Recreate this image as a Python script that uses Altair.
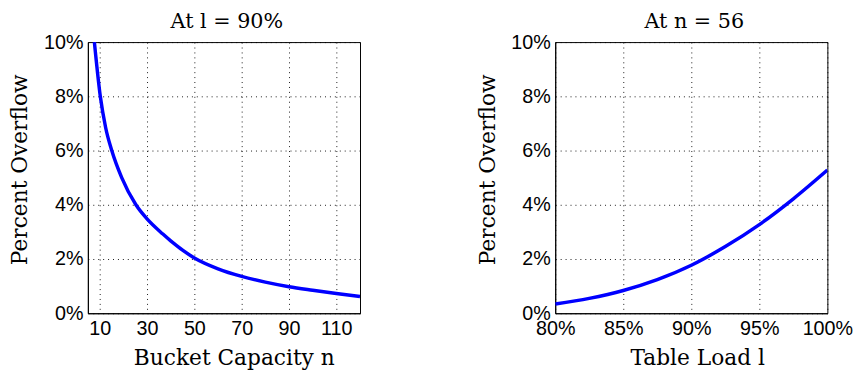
import altair as alt
import pandas as pd

# Left panel: overflow vs bucket capacity at l = 90%
cap_n = [7.75, 10.25, 12.5, 15.1, 19.3, 25.3, 30, 36.7, 40, 50, 60, 70, 80, 90, 100, 110, 120]
cap_overflow = [10.0, 8.0, 6.85, 6.0, 5.0, 4.0, 3.48, 2.92, 2.67, 2.04, 1.64, 1.36, 1.15, 0.98, 0.85, 0.73, 0.62]

# Right panel: overflow vs table load at n = 56
load_l = [0.80, 0.825, 0.85, 0.875, 0.90, 0.925, 0.95, 0.975, 1.00]
load_overflow = [0.34, 0.55, 0.84, 1.24, 1.77, 2.46, 3.27, 4.22, 5.28]

x_ticks_left = [10, 30, 50, 70, 90, 110]
x_ticks_right = [0.80, 0.85, 0.90, 0.95, 1.00]
y_ticks = [0, 2, 4, 6, 8, 10]

df_left = pd.DataFrame({"n": cap_n, "p": [v / 100 for v in cap_overflow]})
df_right = pd.DataFrame({"l": load_l, "p": [v / 100 for v in load_overflow]})

SERIF = "DejaVu Serif"
SANS = "Liberation Sans"

y_axis = alt.Axis(
    values=[v / 100 for v in y_ticks], format=".0%", title="Percent Overflow",
    labelFont=SANS, labelFontSize=20, labelColor="black", labelPadding=5,
    titleFont=SERIF, titleFontSize=22, titleFontWeight="normal", titleColor="black",
    titlePadding=12, titleY=129, ticks=False, domainColor="black",
    gridColor="black", gridDash=[1, 4], gridOpacity=0.9,
)

def x_axis(title, values, fmt, tx):
    return alt.Axis(
        values=values, format=fmt, title=title,
        labelFont=SANS, labelFontSize=20, labelColor="black", labelPadding=6,
        labelFlush=False, labelOverlap=False,
        titleFont=SERIF, titleFontSize=22, titleFontWeight="normal", titleColor="black",
        titlePadding=9, titleX=tx, ticks=False, domainColor="black",
        gridColor="black", gridDash=[1, 4], gridOpacity=0.9,
    )

title_cfg = dict(font=SERIF, fontSize=21, fontWeight="normal", color="black", offset=0, dx=3)

left = alt.Chart(df_left).mark_line(color="#0000ff", strokeWidth=3.5, interpolate="monotone", clip=True).encode(
    x=alt.X("n:Q", scale=alt.Scale(domain=[5, 120], nice=False, zero=False),
            axis=x_axis("Bucket Capacity n", x_ticks_left, "d", 148)),
    y=alt.Y("p:Q", scale=alt.Scale(domain=[0, 0.10], nice=False), axis=y_axis),
).properties(width=276, height=275, title=alt.TitleParams("At l = 90%", **title_cfg))

right = alt.Chart(df_right).mark_line(color="#0000ff", strokeWidth=3.5, interpolate="monotone", clip=True).encode(
    x=alt.X("l:Q", scale=alt.Scale(domain=[0.8, 1.0], nice=False, zero=False),
            axis=x_axis("Table Load l", x_ticks_right, ".0%", 144)),
    y=alt.Y("p:Q", scale=alt.Scale(domain=[0, 0.10], nice=False), axis=y_axis),
).properties(width=276, height=275, title=alt.TitleParams("At n = 56", **title_cfg))

chart = alt.hconcat(left, right, spacing=116).configure_view(
    stroke="black", strokeWidth=1
).properties(padding={"left": 0, "top": 0, "right": 0, "bottom": 0})

chart.save("out.html", embed_options={"renderer": "svg", "actions": False})
